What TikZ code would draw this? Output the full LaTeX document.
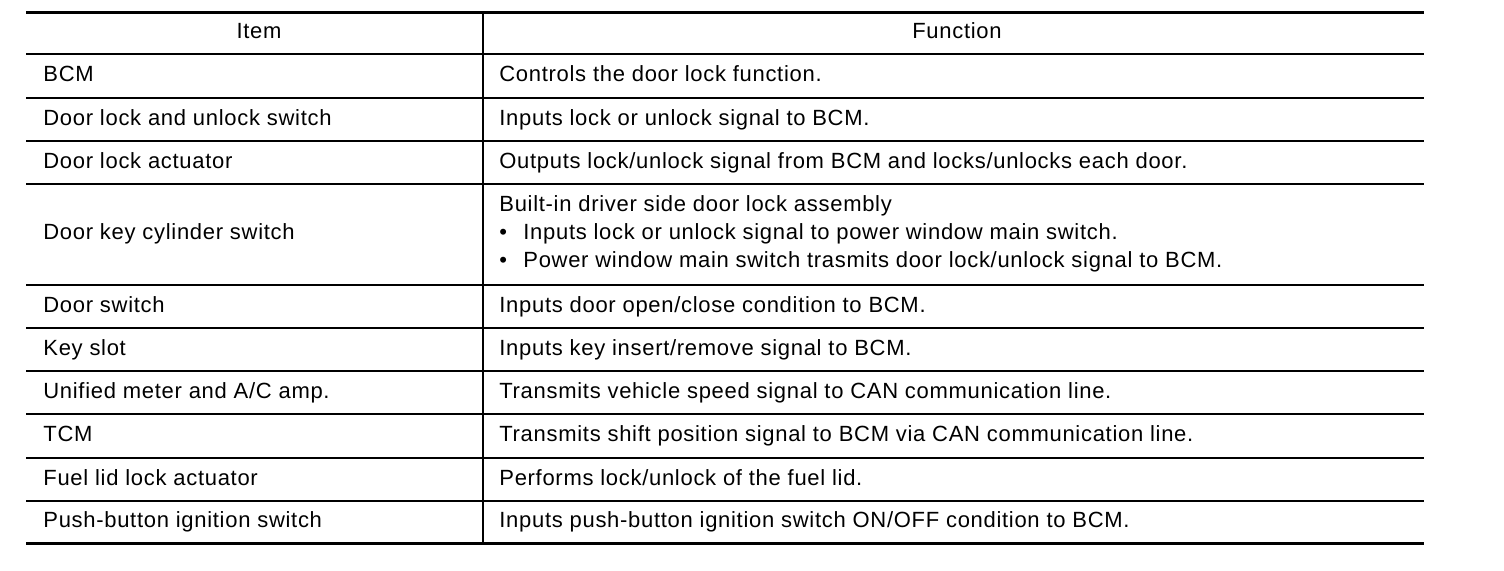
\documentclass[tikz,border=0pt]{standalone}
\usepackage{fontspec}
\setmainfont[LetterSpace=3.2]{Liberation Sans}
\usetikzlibrary{positioning}
\newcommand{\tabfont}{\fontsize{11pt}{13pt}\selectfont}
\tikzset{
  cell/.style={anchor=base west, inner sep=0, font=\tabfont},
  head/.style={anchor=base, inner sep=0, font=\tabfont},
  frame-rule/.style={line width=1.5pt},
  mid-rule/.style={line width=1pt},
  thin-rule/.style={line width=0.65pt},
  col-rule/.style={line width=1.1pt}
}
\begin{document}
\begin{tikzpicture}[x=0.5pt, y=-0.5pt]
  \useasboundingbox (0,0) rectangle (1504,570);
  % rules
  \draw[frame-rule] (26,12) -- (1424,12);
  \draw[frame-rule] (26,543) -- (1424,543);
  \foreach \y in {54,141,285,371,458}
    \draw[mid-rule] (26,\y) -- (1424,\y);
  \foreach \y in {98,184,328,414,501}
    \draw[thin-rule] (26,\y) -- (1424,\y);
  \draw[col-rule] (483,12) -- (483,543);
  % header
  \node[head] (h-item) at (259,38) {Item};
  \node[head] (h-func) at (957,38) {Function};
  % items
  \node[cell] (i-bcm) at (43,81) {BCM};
  \node[cell] (i-sw) at (43,125) {Door lock and unlock switch};
  \node[cell] (i-act) at (43,168) {Door lock actuator};
  \node[cell] (i-cyl) at (43,239) {Door key cylinder switch};
  \node[cell] (i-door) at (43,312) {Door switch};
  \node[cell] (i-slot) at (43,355) {Key slot};
  \node[cell] (i-meter) at (43,398) {Unified meter and A/C amp.};
  \node[cell] (i-tcm) at (43,441) {TCM};
  \node[cell] (i-fuel) at (43,485) {Fuel lid lock actuator};
  \node[cell] (i-push) at (43,527) {Push-button ignition switch};
  % functions
  \node[cell] (f-bcm) at (499,81) {Controls the door lock function.};
  \node[cell] (f-sw) at (499,125) {Inputs lock or unlock signal to BCM.};
  \node[cell] (f-act) at (499,168) {Outputs lock/unlock signal from BCM and locks/unlocks each door.};
  \node[cell] (f-cyl) at (499,211) {Built-in driver side door lock assembly};
  \node[cell] (f-cyl-b1) at (499,239) {\textbullet};
  \node[cell] (f-cyl-1) at (523,239) {Inputs lock or unlock signal to power window main switch.};
  \node[cell] (f-cyl-b2) at (499,267) {\textbullet};
  \node[cell] (f-cyl-2) at (523,267) {Power window main switch trasmits door lock/unlock signal to BCM.};
  \node[cell] (f-door) at (499,312) {Inputs door open/close condition to BCM.};
  \node[cell] (f-slot) at (499,355) {Inputs key insert/remove signal to BCM.};
  \node[cell] (f-meter) at (499,398) {Transmits vehicle speed signal to CAN communication line.};
  \node[cell] (f-tcm) at (499,441) {Transmits shift position signal to BCM via CAN communication line.};
  \node[cell] (f-fuel) at (499,485) {Performs lock/unlock of the fuel lid.};
  \node[cell] (f-push) at (499,527) {Inputs push-button ignition switch ON/OFF condition to BCM.};
\end{tikzpicture}
\end{document}
